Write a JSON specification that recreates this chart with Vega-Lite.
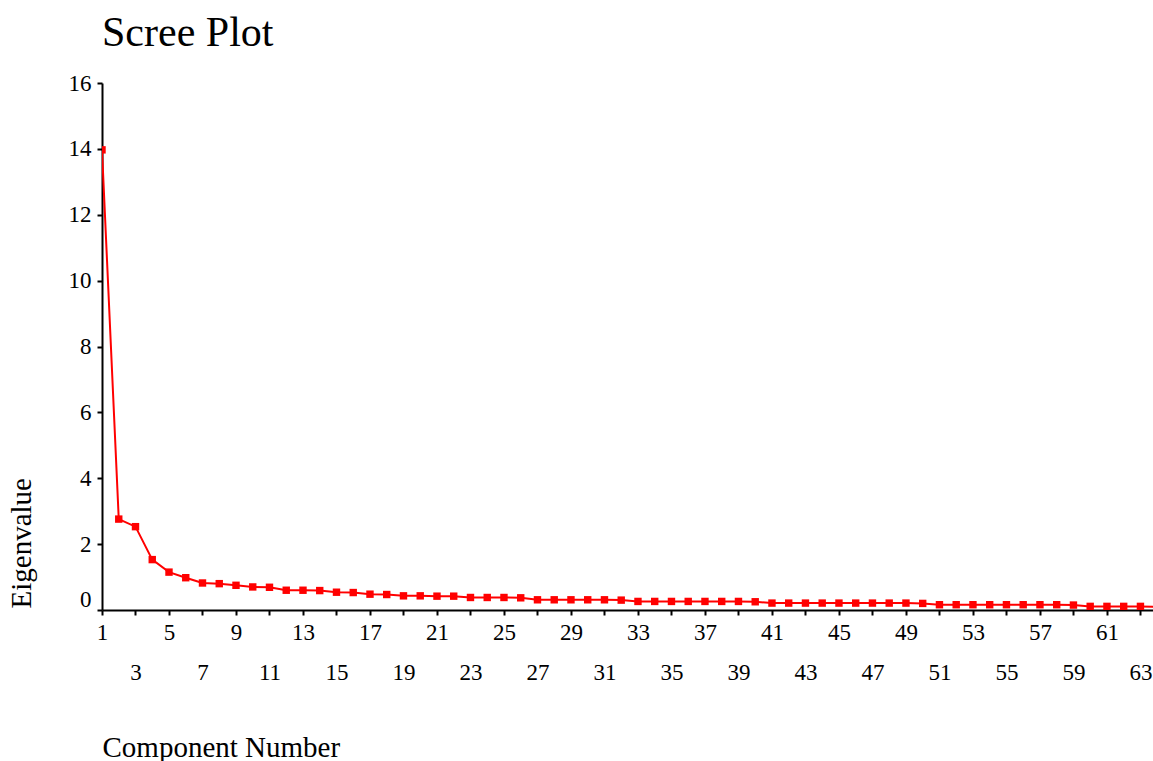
{
  "$schema": "https://vega.github.io/schema/vega-lite/v6.json",
  "autosize": {"type": "none"},
  "padding": {"left": 102, "top": 83, "right": 0, "bottom": 151},
  "width": 1051,
  "height": 527,
  "background": "white",
  "title": {
    "text": "Scree Plot",
    "anchor": "start",
    "frame": "group",
    "font": "Liberation Serif",
    "fontSize": 42,
    "fontWeight": "normal",
    "color": "black",
    "baseline": "alphabetic",
    "offset": -16
  },
  "config": {
    "view": {"stroke": null},
    "axis": {
      "domainColor": "black",
      "domainWidth": 2,
      "tickColor": "black",
      "tickWidth": 2,
      "tickSize": 5,
      "grid": false,
      "labelFont": "Liberation Serif",
      "labelFontSize": 23,
      "labelColor": "black",
      "titleFont": "Liberation Serif",
      "titleFontSize": 29,
      "titleFontWeight": "normal",
      "titleColor": "black",
      "labelOverlap": false,
      "labelFlush": false
    }
  },
  "data": {
    "values": [
      {"component": 1, "eigenvalue": 13.97},
      {"component": 2, "eigenvalue": 2.76},
      {"component": 3, "eigenvalue": 2.53},
      {"component": 4, "eigenvalue": 1.53},
      {"component": 5, "eigenvalue": 1.15},
      {"component": 6, "eigenvalue": 0.98},
      {"component": 7, "eigenvalue": 0.82},
      {"component": 8, "eigenvalue": 0.8},
      {"component": 9, "eigenvalue": 0.75},
      {"component": 10, "eigenvalue": 0.7},
      {"component": 11, "eigenvalue": 0.69},
      {"component": 12, "eigenvalue": 0.6},
      {"component": 13, "eigenvalue": 0.6},
      {"component": 14, "eigenvalue": 0.59},
      {"component": 15, "eigenvalue": 0.54},
      {"component": 16, "eigenvalue": 0.53},
      {"component": 17, "eigenvalue": 0.48},
      {"component": 18, "eigenvalue": 0.47},
      {"component": 19, "eigenvalue": 0.43},
      {"component": 20, "eigenvalue": 0.43},
      {"component": 21, "eigenvalue": 0.42},
      {"component": 22, "eigenvalue": 0.42},
      {"component": 23, "eigenvalue": 0.38},
      {"component": 24, "eigenvalue": 0.38},
      {"component": 25, "eigenvalue": 0.38},
      {"component": 26, "eigenvalue": 0.37},
      {"component": 27, "eigenvalue": 0.31},
      {"component": 28, "eigenvalue": 0.31},
      {"component": 29, "eigenvalue": 0.31},
      {"component": 30, "eigenvalue": 0.31},
      {"component": 31, "eigenvalue": 0.31},
      {"component": 32, "eigenvalue": 0.3},
      {"component": 33, "eigenvalue": 0.26},
      {"component": 34, "eigenvalue": 0.26},
      {"component": 35, "eigenvalue": 0.26},
      {"component": 36, "eigenvalue": 0.26},
      {"component": 37, "eigenvalue": 0.26},
      {"component": 38, "eigenvalue": 0.26},
      {"component": 39, "eigenvalue": 0.26},
      {"component": 40, "eigenvalue": 0.25},
      {"component": 41, "eigenvalue": 0.21},
      {"component": 42, "eigenvalue": 0.21},
      {"component": 43, "eigenvalue": 0.21},
      {"component": 44, "eigenvalue": 0.21},
      {"component": 45, "eigenvalue": 0.21},
      {"component": 46, "eigenvalue": 0.21},
      {"component": 47, "eigenvalue": 0.21},
      {"component": 48, "eigenvalue": 0.21},
      {"component": 49, "eigenvalue": 0.21},
      {"component": 50, "eigenvalue": 0.2},
      {"component": 51, "eigenvalue": 0.16},
      {"component": 52, "eigenvalue": 0.16},
      {"component": 53, "eigenvalue": 0.16},
      {"component": 54, "eigenvalue": 0.16},
      {"component": 55, "eigenvalue": 0.16},
      {"component": 56, "eigenvalue": 0.16},
      {"component": 57, "eigenvalue": 0.16},
      {"component": 58, "eigenvalue": 0.16},
      {"component": 59, "eigenvalue": 0.15},
      {"component": 60, "eigenvalue": 0.11},
      {"component": 61, "eigenvalue": 0.11},
      {"component": 62, "eigenvalue": 0.11},
      {"component": 63, "eigenvalue": 0.11},
      {"component": 64, "eigenvalue": 0.09}
    ]
  },
  "encoding": {
    "x": {
      "field": "component",
      "type": "quantitative",
      "scale": {"domain": [1, 63.75], "nice": false, "zero": false},
      "axis": {
        "title": "Component Number",
        "values": [1,3,5,7,9,11,13,15,17,19,21,23,25,27,29,31,33,35,37,39,41,43,45,47,49,51,53,55,57,59,61,63],
        "labelPadding": {"condition": {"test": "datum.value % 4 == 3", "value": 46}, "value": 6},
        "titleAnchor": "start",
        "titleAlign": "left",
        "titleBaseline": "alphabetic",
        "titleX": 0,
        "titleY": 146
      }
    },
    "y": {
      "field": "eigenvalue",
      "type": "quantitative",
      "scale": {"domain": [0, 16], "nice": false},
      "axis": {
        "title": "Eigenvalue",
        "values": [0,2,4,6,8,10,12,14,16],
        "labelPadding": 6,
        "labelOffset": {"condition": {"test": "datum.value == 0", "value": -11}, "value": 0},
        "titleAngle": -90,
        "titleAlign": "left",
        "titleBaseline": "alphabetic",
        "titleX": -72,
        "titleY": 525
      }
    }
  },
  "layer": [
    {"mark": {"type": "line", "color": "#ff0000", "strokeWidth": 2, "clip": true}},
    {"mark": {"type": "point", "shape": "square", "filled": true, "opacity": 1, "color": "#ff0000", "size": 55, "clip": true}}
  ]
}
